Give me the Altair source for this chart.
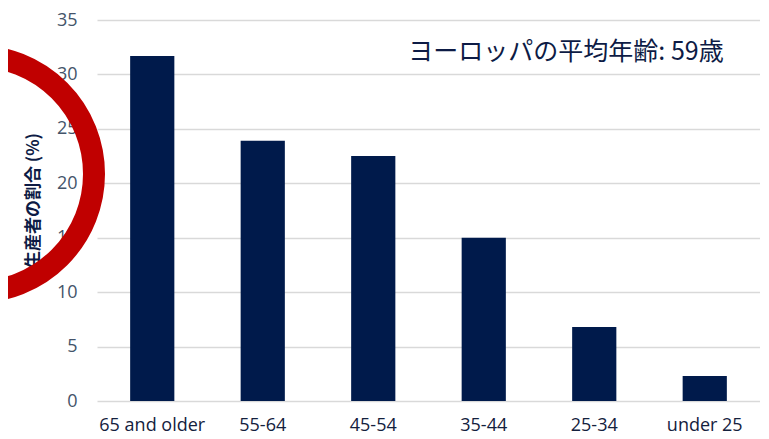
import altair as alt
import pandas as pd

categories = ["65 and older", "55-64", "45-54", "35-44", "25-34", "under 25"]
values = [31.7, 23.9, 22.5, 15.0, 6.8, 2.3]
y_title = "生産者の割合 (%)"
note = "ヨーロッパの平均年齢: 59歳"

df = pd.DataFrame({"cat": categories, "val": values})

bars = alt.Chart(df).mark_bar(color="#001A4B").encode(
    x=alt.X("cat:N", sort=categories, title=None,
            scale=alt.Scale(paddingInner=0.6, paddingOuter=0.3),
            axis=alt.Axis(labelAngle=0, labelFont="Open Sans", labelFontSize=18,
                          labelColor="#14213D", labelPadding=15, ticks=False,
                          domain=False, grid=False)),
    y=alt.Y("val:Q", title=y_title,
            scale=alt.Scale(domain=[0, 35], nice=False),
            axis=alt.Axis(values=[0, 5, 10, 15, 20, 25, 30, 35], labelFont="Open Sans",
                          labelFontSize=18, labelColor="#44546A", labelPadding=20,
                          ticks=False, domain=False, gridColor="#D9D9D9", gridWidth=1.5,
                          titleFont="Noto Sans CJK JP", titleFontSize=17,
                          titleFontWeight="bold", titleColor="#0D1B45",
                          titleX=-55, titleY=180))
)

text = alt.Chart(pd.DataFrame({"t": [note]})).mark_text(
    font="Noto Sans CJK JP", fontSize=25, color="#0D1B45", align="center",
    baseline="middle"
).encode(x=alt.value(469), y=alt.value(32), text="t:N")

ring = alt.Chart(pd.DataFrame({"t": [note]})).mark_point(
    shape="circle", filled=False, color="#C00000", strokeWidth=22, size=55696, opacity=1
).encode(x=alt.value(-121), y=alt.value(154))

chart = alt.layer(bars, text, ring).properties(
    width=663, height=381,
    autosize=alt.AutoSizeParams(type="none"),
    padding={"left": 89, "top": 12, "right": 0, "bottom": 38},
).configure_view(stroke=None)

chart.save("out.html", embed_options={"renderer": "svg", "actions": False})
